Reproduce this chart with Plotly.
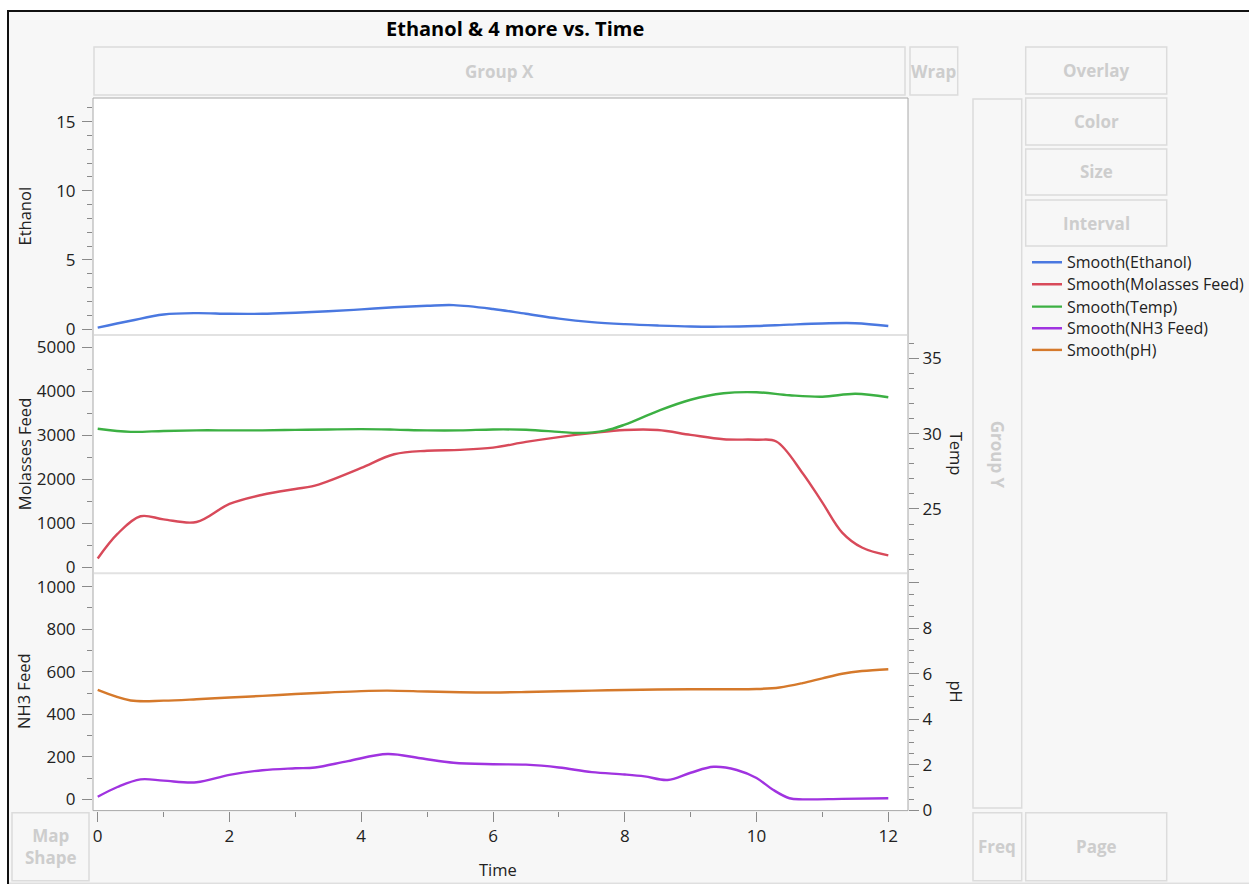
import plotly.graph_objects as go

W, H = 1249, 884

# ---------------- data ----------------
t_eth = [0, 0.5, 1.0, 1.5, 2.0, 2.5, 3.0, 3.5, 4.0, 4.5, 5.0, 5.4, 6.0, 6.5, 7.0, 7.5, 8.0, 8.5, 9.0, 9.5, 10.0, 10.5, 11.0, 11.5, 12.0]
ethanol = [0.1, 0.6, 1.05, 1.15, 1.1, 1.1, 1.18, 1.28, 1.42, 1.57, 1.68, 1.73, 1.45, 1.1, 0.75, 0.5, 0.35, 0.25, 0.18, 0.17, 0.22, 0.32, 0.4, 0.42, 0.22]

t_mol = [0, 0.3, 0.65, 1.0, 1.5, 2.0, 2.5, 3.0, 3.25, 3.5, 4.0, 4.5, 5.0, 5.5, 6.0, 6.5, 7.0, 7.5, 8.0, 8.5, 9.0, 9.5, 10.0, 10.3, 10.7, 11.0, 11.3, 11.6, 12.0]
molasses = [200, 760, 1160, 1090, 1030, 1440, 1650, 1780, 1840, 1960, 2260, 2570, 2650, 2670, 2720, 2850, 2960, 3050, 3120, 3120, 3010, 2910, 2900, 2860, 2140, 1470, 790, 450, 270]

t_temp = [0, 0.5, 1.0, 1.5, 2.0, 2.5, 3.0, 3.5, 4.0, 4.5, 5.0, 5.5, 6.0, 6.5, 7.0, 7.3, 7.7, 8.0, 8.5, 9.0, 9.5, 10.0, 10.5, 11.0, 11.5, 12.0]
temp = [30.33, 30.12, 30.18, 30.22, 30.22, 30.22, 30.25, 30.28, 30.3, 30.27, 30.22, 30.22, 30.28, 30.26, 30.12, 30.04, 30.2, 30.6, 31.5, 32.25, 32.68, 32.75, 32.55, 32.45, 32.65, 32.42]

t_nh3 = [0, 0.3, 0.65, 1.0, 1.5, 2.0, 2.5, 3.0, 3.3, 3.8, 4.4, 4.9, 5.4, 6.0, 6.5, 7.0, 7.5, 8.0, 8.3, 8.65, 9.0, 9.35, 9.7, 10.0, 10.25, 10.5, 10.7, 11.3, 12.0]
nh3 = [12, 58, 94, 88, 80, 115, 137, 146, 150, 180, 213, 193, 172, 165, 163, 150, 128, 117, 108, 91, 125, 153, 138, 100, 45, 5, 0, 2, 5]

t_ph = [0, 0.5, 1.0, 1.5, 2.0, 2.5, 3.0, 3.5, 4.0, 4.4, 5.0, 5.5, 6.0, 6.5, 7.0, 7.5, 8.0, 8.5, 9.0, 9.5, 10.0, 10.35, 10.7, 11.0, 11.3, 11.6, 12.0]
ph = [5.29, 4.83, 4.82, 4.88, 4.96, 5.03, 5.11, 5.18, 5.24, 5.26, 5.22, 5.19, 5.18, 5.2, 5.23, 5.26, 5.29, 5.31, 5.32, 5.32, 5.33, 5.4, 5.59, 5.8, 6.0, 6.12, 6.2]

series_names = ["Smooth(Ethanol)", "Smooth(Molasses Feed)", "Smooth(Temp)", "Smooth(NH3 Feed)", "Smooth(pH)"]
series_colors = ["#4a78e0", "#d84a5a", "#3cb043", "#a033e0", "#d5792b"]

ph_tickvals = [0, 2, 4, 6, 8, 10]
ph_ticktext = ["0", "2", "4", "6", "8", ""]

# ---------------- helpers: pixel -> paper ----------------
def px(x):
    return x / W

def py(y):
    return 1 - y / H

FONT = "Open Sans"
TICKCOL = "#8a8a8a"
TXT = "#222222"

L, R = 93, 908
P1T, P1B = 98, 335
P2T, P2B = 335, 573.3
P3T, P3B = 573.3, 810.6

legend_rows = [262.3, 284.3, 306.7, 328.3, 350.0]
legend_ids = ["legend", "legend2", "legend3", "legend4", "legend5"]
trace_axes = ["y", "y2", "y4", "y3", "y5"]
trace_data = [(t_eth, ethanol), (t_mol, molasses), (t_temp, temp), (t_nh3, nh3), (t_ph, ph)]

fig = go.Figure()
for i, (tx, vy) in enumerate(trace_data):
    fig.add_trace(go.Scatter(x=tx, y=vy, name=series_names[i], mode="lines",
                             line=dict(color=series_colors[i], width=2.4, shape="spline", smoothing=1.0),
                             xaxis="x", yaxis=trace_axes[i], legend=legend_ids[i]))

tickfont = dict(family=FONT, size=17, color=TXT)

def yax(domain, rng, dtick, mdtick, side="left", overlaying=None):
    d = dict(range=rng, dtick=dtick, tick0=0, showgrid=False, zeroline=False, showline=False,
             ticks="outside", ticklen=10, tickwidth=1, tickcolor=TICKCOL, automargin=False,
             tickfont=tickfont, side=side, anchor="x", fixedrange=True,
             ticklabelstandoff=3 if side == "left" else 0,
             minor=dict(dtick=mdtick, tick0=0, ticks="outside", ticklen=5, tickwidth=1, tickcolor=TICKCOL, showgrid=False))
    if overlaying:
        d["overlaying"] = overlaying
    else:
        d["domain"] = domain
    return d

y5 = yax(None, [-0.005, 10.41], 2, 0.5, side="right", overlaying="y3")
y5.pop("dtick")
y5["tickmode"] = "array"
y5["tickvals"] = ph_tickvals
y5["ticktext"] = ph_ticktext

layout = dict(
    width=W, height=H, autosize=False,
    margin=dict(l=0, r=0, t=0, b=0, pad=0, autoexpand=False),
    paper_bgcolor="white", plot_bgcolor="rgba(0,0,0,0)",
    font=dict(family=FONT, size=16, color=TXT),
    xaxis=dict(domain=[px(L), px(R)], range=[-0.0713, 12.299], dtick=2, tick0=0,
               showgrid=False, zeroline=False, showline=False, anchor="y3", automargin=False,
               ticks="outside", ticklen=10, tickwidth=1, tickcolor=TICKCOL, tickfont=tickfont,
               minor=dict(dtick=1, tick0=0, ticks="outside", ticklen=5, tickwidth=1, tickcolor=TICKCOL, showgrid=False),
               fixedrange=True),
    yaxis=yax([py(P1B), py(P1T)], [-0.434, 16.71], 5, 1),
    yaxis2=yax([py(P2B), py(P2T)], [-136, 5280], 1000, 500),
    yaxis3=yax([py(P3B), py(P3T)], [-53, 1063], 200, 100),
    yaxis4=yax(None, [20.73, 36.55], 5, 1, side="right", overlaying="y2"),
    yaxis5=y5,
    showlegend=True,
)
for lid, row in zip(legend_ids, legend_rows):
    layout[lid] = dict(x=px(1027), y=py(row), xanchor="left", yanchor="middle",
                       bgcolor="rgba(0,0,0,0)", borderwidth=0,
                       font=dict(family=FONT, size=16, color=TXT), itemwidth=30)
fig.update_layout(**layout)

shapes = []
# outer frame
shapes.append(dict(type="rect", xref="paper", yref="paper", x0=px(8), x1=px(1260), y0=py(895), y1=py(11),
                   line=dict(color="#111111", width=2), fillcolor="#f7f7f7", layer="below"))
shapes.append(dict(type="line", xref="paper", yref="paper", x0=px(9), x1=px(1260), y0=py(883.2), y1=py(883.2),
                   line=dict(color="#d4d4d4", width=1), layer="below"))
# plot area background and border
shapes.append(dict(type="rect", xref="paper", yref="paper", x0=px(L), x1=px(R), y0=py(P3B), y1=py(P1T),
                   line=dict(color="#a8a8a8", width=1), fillcolor="white", layer="below"))
# panel separators
for yy in (P1B, P2B):
    shapes.append(dict(type="line", xref="paper", yref="paper", x0=px(L + 1), x1=px(R - 1), y0=py(yy), y1=py(yy),
                       line=dict(color="#e2e2e2", width=2), layer="below"))

# drop-zone boxes
boxes = [
    (94, 47, 905, 95, "Group X", 0),
    (910, 47, 957.7, 95, "Wrap", 0),
    (1025.7, 47, 1166.7, 94, "Overlay", 0),
    (1025.7, 98, 1166.7, 145, "Color", 0),
    (1025.7, 149, 1166.7, 195, "Size", 0),
    (1025.7, 200, 1166.7, 246, "Interval", 0),
    (973, 99, 1021.7, 808, "Group Y", 90),
    (973, 812.7, 1021.7, 880.7, "Freq", 0),
    (1025.7, 812.7, 1166.7, 880.7, "Page", 0),
    (12, 812.7, 89, 880.7, "Map<br>Shape", 0),
]
annotations = []
for (x0, y0, x1, y1, label, ang) in boxes:
    shapes.append(dict(type="rect", xref="paper", yref="paper", x0=px(x0), x1=px(x1), y0=py(y1), y1=py(y0),
                       line=dict(color="#dcdcdc", width=1.5), fillcolor="#f7f7f7", layer="below"))
    cy = (y0 + y1) / 2
    if label == "Group Y":
        cy = 455
    annotations.append(dict(xref="paper", yref="paper", x=px((x0 + x1) / 2), y=py(cy), text="<b>%s</b>" % label,
                            showarrow=False, textangle=ang, xanchor="center", yanchor="middle",
                            font=dict(family=FONT, size=17, color="#cdcdcd")))

# title
annotations.append(dict(xref="paper", yref="paper", x=px(515), y=py(28.5), text="<b>Ethanol & 4 more vs. Time</b>",
                        showarrow=False, xanchor="center", yanchor="middle",
                        font=dict(family=FONT, size=20, color="#000000")))
# axis titles
axis_titles = [
    (24, (P1T + P1B) / 2, "Ethanol", -90),
    (24, (P2T + P2B) / 2, "Molasses Feed", -90),
    (24, (P3T + P3B) / 2, "NH3 Feed", -90),
    (956.5, (P2T + P2B) / 2, "Temp", 90),
    (956.5, (P3T + P3B) / 2, "pH", 90),
    (498, 869, "Time", 0),
]
for (x, y, txt, ang) in axis_titles:
    annotations.append(dict(xref="paper", yref="paper", x=px(x), y=py(y), text=txt, showarrow=False,
                            textangle=ang, xanchor="center", yanchor="middle",
                            font=dict(family=FONT, size=16.5, color=TXT)))

fig.update_layout(shapes=shapes, annotations=annotations)

page_css = ("var s=document.createElement('style');"
            "s.textContent='html,body{margin:0!important;padding:0!important;overflow:hidden;}"
            ".plotly-graph-div{display:block;margin:0;}';"
            "document.head.appendChild(s);")
fig.write_html("out.html", post_script=page_css)
